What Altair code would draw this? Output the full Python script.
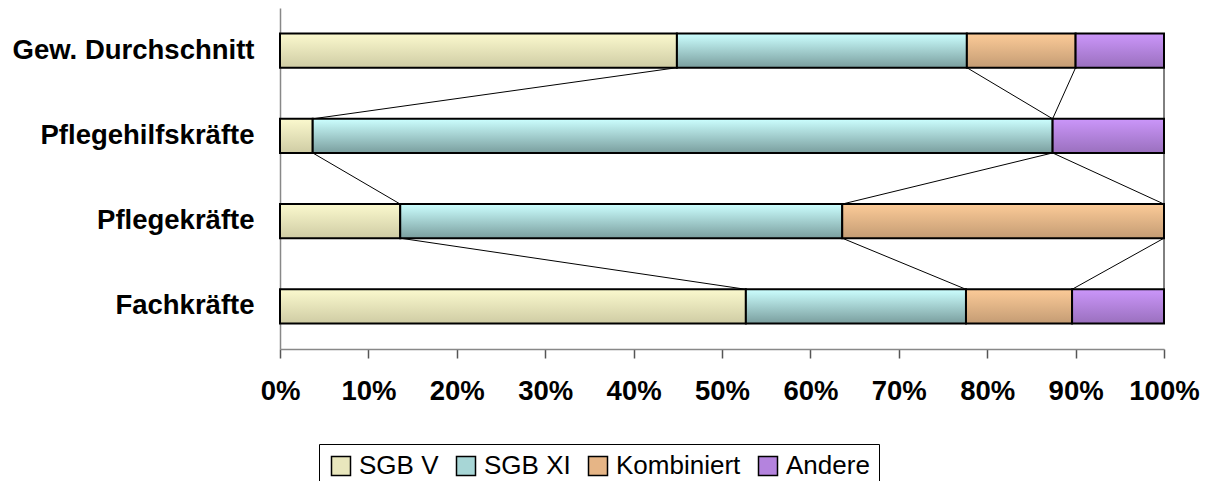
import altair as alt
import pandas as pd

categories = ["Gew. Durchschnitt", "Pflegehilfskräfte", "Pflegekräfte", "Fachkräfte"]
series = ["SGB V", "SGB XI", "Kombiniert", "Andere"]
sgb_v = [44.9, 3.7, 13.6, 52.7]
sgb_xi = [32.8, 83.7, 50.0, 24.9]
kombiniert = [12.3, 0.0, 36.4, 12.0]
andere = [10.0, 12.6, 0.0, 10.4]
x_ticks = [0, 10, 20, 30, 40, 50, 60, 70, 80, 90, 100]

top_colors = ["#FBF9CE", "#CCFFFF", "#FCCB98", "#CB96FA"]
bottom_colors = ["#CFCCA4", "#7A9E9E", "#C49C74", "#9A70BE"]
legend_colors = ["#E9E7BD", "#A7D6D6", "#E6B586", "#B483DE"]

FONT = "Liberation Sans"

values = {"SGB V": sgb_v, "SGB XI": sgb_xi, "Kombiniert": kombiniert, "Andere": andere}

# segments
seg_rows = []
ends = {}
for i, c in enumerate(categories):
    acc = 0.0
    for s in series:
        v = values[s][i]
        x0 = acc
        acc = acc + v
        ends[(i, s)] = acc
        if v > 0:
            seg_rows.append({"cat": c, "series": s, "x0": x0, "x1": acc})
segs = pd.DataFrame(seg_rows)

# series lines
line_rows = []
for i in range(len(categories) - 1):
    for s in series:
        line_rows.append({
            "cat_a": categories[i], "cat_b": categories[i + 1],
            "xa": ends[(i, s)], "xb": ends[(i + 1, s)], "series": s,
        })
lines_df = pd.DataFrame(line_rows)

yscale = alt.Scale(domain=categories, paddingInner=0.6, paddingOuter=0.3)
xscale = alt.Scale(domain=[0, 100], nice=False, zero=True)

x_axis = alt.Axis(values=x_ticks, labelExpr="datum.value + '%'", grid=False, title=None,
                  domainColor="#888888", domainWidth=1.5, tickColor="#555555", tickWidth=1.5,
                  tickSize=9, labelFont=FONT, labelFontSize=27.5, labelFontWeight="bold",
                  labelColor="black", labelPadding=19, labelOverlap=False, labelFlush=False)
y_axis = alt.Axis(title=None, ticks=False, domainColor="#888888", domainWidth=1.5,
                  labelFont=FONT, labelFontSize=27.5, labelFontWeight="bold",
                  labelColor="black", labelPadding=26, labelLimit=400)

base = alt.Chart(segs).mark_bar(strokeWidth=0).encode(
    x=alt.X("x0:Q", scale=xscale, axis=x_axis),
    x2="x1:Q",
    y=alt.Y("cat:N", scale=yscale, axis=y_axis, sort=categories),
    color=alt.Color("series:N", scale=alt.Scale(domain=series, range=legend_colors),
                    sort=series, legend=alt.Legend(title=None)),
)

layers = [base]
for k, s in enumerate(series):
    grad = alt.Gradient(
        gradient="linear", x1=0, y1=0, x2=0, y2=1,
        stops=[alt.GradientStop(color=top_colors[k], offset=0),
               alt.GradientStop(color=bottom_colors[k], offset=1)],
    )
    layers.append(
        alt.Chart(segs).transform_filter(alt.datum.series == s)
        .mark_bar(fill=grad, stroke="black", strokeWidth=2)
        .encode(
            x=alt.X("x0:Q", scale=xscale, axis=x_axis),
            x2="x1:Q",
            y=alt.Y("cat:N", scale=yscale, axis=y_axis, sort=categories),
        )
    )

lines = alt.Chart(lines_df).mark_rule(color="black", strokeWidth=1).encode(
    x=alt.X("xa:Q", scale=xscale, axis=x_axis),
    x2="xb:Q",
    y=alt.Y("cat_a:N", scale=yscale, axis=y_axis, sort=categories, bandPosition=1),
    y2=alt.Y2("cat_b:N", bandPosition=0),
)
layers.append(lines)

chart = alt.layer(*layers).properties(
    width=884, height=341,
    padding={"left": 272, "top": 0, "right": 37, "bottom": 132},
    autosize=alt.AutoSizeParams(type="none"),
).configure_view(stroke=None).configure_legend(
    orient="none", legendX=39, legendY=436, direction="horizontal",
    strokeColor="black", fillColor="white", padding=9,
    symbolType="square", symbolSize=361, symbolStrokeColor="black", symbolStrokeWidth=1.5,
    labelFont=FONT, labelFontSize=26, labelColor="black", labelOffset=5,
    columnPadding=14,
)

chart.save("out.html", embed_options={"renderer": "svg", "actions": False})
